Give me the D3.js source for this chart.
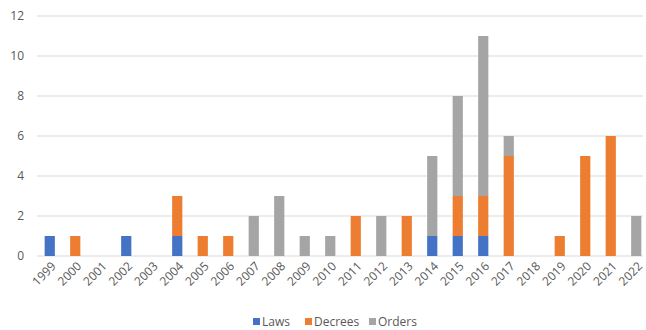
<!DOCTYPE html>
<html>
<head>
<meta charset="utf-8">
<script src="https://cdn.jsdelivr.net/npm/d3@7"></script>
<style>
  body { margin: 0; background: #fff; }
  text { font-family: "Open Sans", "Liberation Sans", sans-serif; fill: #595959; }
</style>
</head>
<body>
<div id="chart"></div>
<script>
// data
const years = ["1999","2000","2001","2002","2003","2004","2005","2006","2007","2008","2009","2010",
               "2011","2012","2013","2014","2015","2016","2017","2018","2019","2020","2021","2022"];
const laws    = [1,0,0,1,0,1,0,0,0,0,0,0,0,0,0,1,1,1,0,0,0,0,0,0];
const decrees = [0,1,0,0,0,2,1,1,0,0,0,0,2,0,2,0,2,2,5,0,1,5,6,0];
const orders  = [0,0,0,0,0,0,0,0,2,3,1,1,0,2,0,4,5,8,1,0,0,0,0,2];
const keys = ["Laws", "Decrees", "Orders"];
const yTicks = [0, 2, 4, 6, 8, 10, 12];

const rows = years.map((y, i) => ({ year: y, Laws: laws[i], Decrees: decrees[i], Orders: orders[i] }));

const width = 646, height = 330;
const margin = { top: 16, right: 4, bottom: 74, left: 37 };

const series = d3.stack().keys(keys)(rows);

const x = d3.scaleBand()
    .domain(years)
    .range([margin.left, margin.left + 24 * 25.5])
    .paddingInner(0.6)
    .paddingOuter(0.3);

const y = d3.scaleLinear()
    .domain([0, 12])
    .range([256, 16]);

const colors = d3.scaleOrdinal()
    .domain(keys)
    .range(["#4472c4", "#ed7d31", "#a5a5a5"]);

const svg = d3.select("#chart")
    .append("svg")
    .attr("width", width)
    .attr("height", height);

// gridlines
svg.append("g")
    .selectAll("line")
    .data(yTicks)
    .enter()
    .append("line")
    .attr("x1", margin.left)
    .attr("x2", 643)
    .attr("y1", d => y(d))
    .attr("y2", d => y(d))
    .attr("stroke", "#d9d9d9")
    .attr("stroke-width", 1);

// y labels
svg.append("g")
    .selectAll("text")
    .data(yTicks)
    .enter()
    .append("text")
    .attr("x", 24)
    .attr("y", d => y(d))
    .attr("dy", "0.35em")
    .attr("text-anchor", "end")
    .style("font-size", "12px")
    .text(d => d);

// bars
svg.append("g")
    .selectAll("g")
    .data(series)
    .enter()
    .append("g")
    .attr("fill", d => colors(d.key))
    .selectAll("rect")
    .data(d => d.filter(v => v[1] > v[0]))
    .enter()
    .append("rect")
    .attr("x", d => x(d.data.year))
    .attr("y", d => y(d[1]))
    .attr("width", x.bandwidth())
    .attr("height", d => y(d[0]) - y(d[1]));

// x labels, rotated
svg.append("g")
    .selectAll("text")
    .data(years)
    .enter()
    .append("text")
    .attr("transform", d => `translate(${x(d) + x.bandwidth() / 2 + 4},${y(0) + 8}) rotate(-45)`)
    .attr("text-anchor", "end")
    .attr("dy", "0.35em")
    .style("font-size", "12px")
    .text(d => d);

// legend
const legendX = [253, 305, 369];
const legend = svg.append("g")
    .selectAll("g")
    .data(keys)
    .enter()
    .append("g")
    .attr("transform", (d, i) => `translate(${legendX[i]},322)`);

legend.append("rect")
    .attr("x", 0)
    .attr("y", -4)
    .attr("width", 7)
    .attr("height", 7)
    .attr("fill", d => colors(d));

legend.append("text")
    .attr("x", 9)
    .attr("y", 0)
    .attr("dy", "0.35em")
    .style("font-size", "12px")
    .text(d => d);
</script>
</body>
</html>
